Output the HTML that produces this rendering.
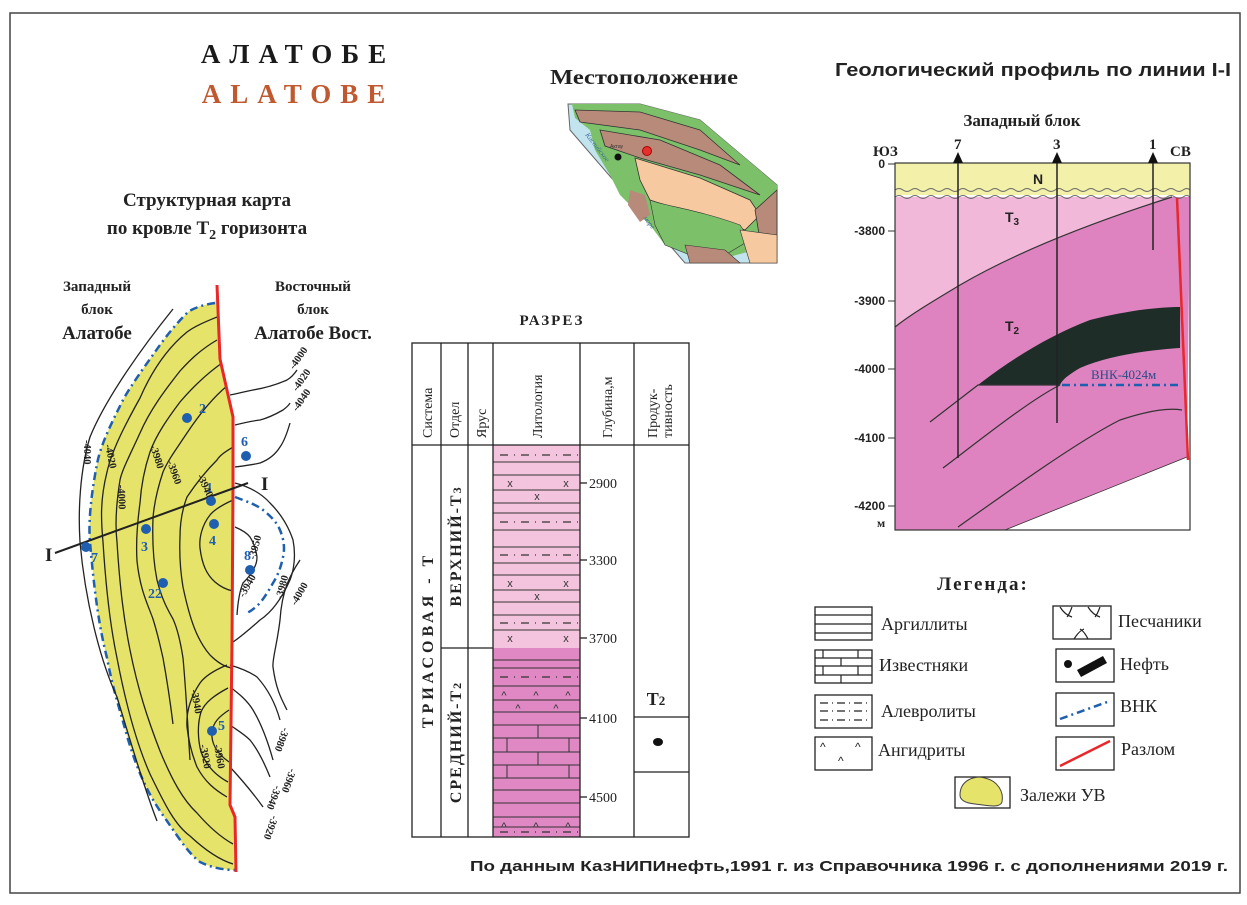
<!DOCTYPE html>
<html><head><meta charset="utf-8"><style>
html,body{margin:0;padding:0;background:#fff;}
svg{display:block;}
.s{font-family:"Liberation Serif","DejaVu Serif",serif;}
.a{font-family:"Liberation Sans","DejaVu Sans",sans-serif;}
</style></head><body>
<svg width="1247" height="905" viewBox="0 0 1247 905" xmlns="http://www.w3.org/2000/svg">
<rect x="10" y="13" width="1230" height="880" fill="#fff" stroke="#444" stroke-width="1.5"/>

<!-- Titles -->
<text x="298" y="63" class="s" font-size="27" font-weight="bold" text-anchor="middle" letter-spacing="9" fill="#1a1a1a">АЛАТОБЕ</text>
<text x="298" y="103" class="s" font-size="27" font-weight="bold" text-anchor="middle" letter-spacing="9" fill="#c0592f">ALATOBE</text>
<text x="207" y="206" class="s" font-size="19" font-weight="bold" text-anchor="middle" fill="#222">Структурная карта</text>
<text x="207" y="234" class="s" font-size="19" font-weight="bold" text-anchor="middle" fill="#222">по кровле Т<tspan font-size="14" dy="5">2</tspan><tspan dy="-5"> горизонта</tspan></text>
<text x="97" y="291" class="s" font-size="15" font-weight="bold" text-anchor="middle" fill="#222">Западный</text>
<text x="97" y="314" class="s" font-size="15" font-weight="bold" text-anchor="middle" fill="#222">блок</text>
<text x="97" y="339" class="s" font-size="19" font-weight="bold" text-anchor="middle" fill="#222">Алатобе</text>
<text x="313" y="291" class="s" font-size="15" font-weight="bold" text-anchor="middle" fill="#222">Восточный</text>
<text x="313" y="314" class="s" font-size="15" font-weight="bold" text-anchor="middle" fill="#222">блок</text>
<text x="313" y="339" class="s" font-size="19" font-weight="bold" text-anchor="middle" fill="#222">Алатобе Вост.</text>

<!-- Structural map -->
<path d="M217,287 L215,303 C200,305 190,310 187,313 C170,330 160,345 150,359 C135,380 125,395 120,406 C108,430 100,448 97,464 C92,490 88,520 90,542 C95,600 100,630 107,658 C113,690 120,710 127,736 C140,780 152,800 167,821 C180,840 190,855 200,862 C212,868 225,870 235,870 L235,817 L230,805 L232,642 L233,487 L233,417 L220,359 Z" fill="#e6e36a"/>
<path d="M215,303 C200,305 190,310 187,313 C170,330 160,345 150,359 C135,380 125,395 120,406 C108,430 100,448 97,464 C92,490 88,520 90,542 C95,600 100,630 107,658 C113,690 120,710 127,736 C140,780 152,800 167,821 C180,840 190,855 200,862 C212,868 225,870 235,870" fill="none" stroke="#1e5fb0" stroke-width="2.5" stroke-dasharray="8,4,2,4"/>
<g fill="none" stroke="#222" stroke-width="1.3">
<path d="M173,309 C140,350 105,400 90,437 C80,470 78,510 80,542 C85,600 100,660 117,697 C130,740 145,790 157,821"/>
<path d="M217,317 C205,322 195,326 187,332 C165,350 150,375 140,398 C125,425 112,450 107,472 C100,500 101,520 103,542 C106,590 110,625 117,658 C125,700 135,740 150,774 C165,805 175,825 190,836 C205,850 220,860 233,864"/>
<path d="M217,340 C200,350 190,360 180,371 C165,390 150,410 140,433 C130,455 122,470 120,480 C116,505 115,525 117,542 C120,590 124,620 130,650 C138,690 148,720 160,751 C172,780 183,800 197,813 C210,828 222,838 233,844"/>
<path d="M222,363 C205,375 192,388 180,402 C168,418 156,435 150,452 C144,470 141,488 140,503 C137,525 136,545 137,561 C140,590 148,605 153,619 C158,635 160,645 163,658 C167,680 170,700 173,724"/>
<path d="M227,386 C210,400 197,418 187,433 C177,448 168,460 163,472 C157,490 154,505 153,518 C152,545 154,565 157,580 C162,600 168,610 173,619 C178,630 181,645 183,658 C186,690 188,730 190,760"/>
<path d="M233,447 C225,452 220,455 217,460 C205,472 195,485 187,497 C182,510 180,525 180,537 C179,560 181,575 183,587 C190,620 197,640 210,655 C218,663 225,667 232,668"/>
<path d="M233,500 C222,505 214,510 210,515 C202,525 199,538 200,548 C202,565 207,575 215,582 C222,588 228,590 233,591"/>
<path d="M227,665 C215,670 205,676 200,683 C190,698 186,712 187,727 C189,745 193,757 197,767 C205,782 215,790 227,797"/>
<path d="M228,688 C215,695 205,702 201,712 C197,725 198,740 201,752 C206,765 215,775 228,782"/>
<path d="M229,710 C220,716 213,722 212,732 C211,742 215,752 229,762"/>
<path d="M230,395 C240,393 247,391 253,390 C265,388 278,384 287,380 C292,377 295,373 297,370"/>
<path d="M235,425 C243,423 252,421 260,420 C268,418 276,414 283,410 C287,407 289,405 290,403"/>
<path d="M235,467 C243,466 252,465 260,463 C268,460 275,455 280,447 C285,440 288,430 290,423"/>
<path d="M235,483 C250,487 262,494 270,503 C280,513 288,525 293,540 C296,555 294,570 290,580 C282,598 272,612 260,620 C252,627 242,636 233,642"/>
<path d="M235,527 C242,530 247,533 250,537 C254,543 256,550 257,557 C257,563 255,567 253,570 C250,576 246,580 243,583 C240,590 238,600 237,615"/>
<path d="M300,560 C290,575 282,590 280,620 C277,645 272,660 273,667 C276,690 282,700 287,710"/>
<path d="M230,665 C240,668 250,672 257,677 C267,688 275,702 280,720"/>
<path d="M230,687 C238,693 247,700 253,710 C262,725 268,742 273,760"/>
<path d="M230,725 C237,730 244,734 250,740 C258,750 264,762 270,777"/>
<path d="M230,767 C242,780 253,793 263,807"/>
</g>
<path d="M235,497 C248,502 257,505 263,510 C272,517 277,523 280,530 C284,540 285,548 283,557 C281,567 278,575 273,583 C268,592 264,598 260,603 C255,608 251,611 247,613" fill="none" stroke="#1e5fb0" stroke-width="2.5" stroke-dasharray="8,4,2,4"/>
<polyline points="217,285 220,359 233,417 233,487 232,642 230,805 235,817 236,872" fill="none" stroke="#e8282a" stroke-width="3"/>
<line x1="55" y1="553" x2="248" y2="483" stroke="#222" stroke-width="2"/>
<text x="45" y="561" class="s" font-size="19" font-weight="bold" fill="#222">I</text>
<text x="261" y="490" class="s" font-size="19" font-weight="bold" fill="#222">I</text>
<g fill="#1f5fb0">
<circle cx="187" cy="418" r="5"/><circle cx="246" cy="456" r="5"/><circle cx="211" cy="501" r="5"/><circle cx="214" cy="524" r="5"/><circle cx="146" cy="529" r="5"/><circle cx="86" cy="547" r="5"/><circle cx="250" cy="570" r="5"/><circle cx="163" cy="583" r="5"/><circle cx="212" cy="731" r="5"/>
</g>
<g class="s" font-size="14" font-weight="bold" fill="#1f5fb0">
<text x="199" y="413">2</text><text x="241" y="446">6</text><text x="206" y="492">1</text><text x="209" y="545">4</text><text x="141" y="551">3</text><text x="91" y="562">7</text><text x="244" y="560">8</text><text x="148" y="598">22</text><text x="218" y="730">5</text>
</g>
<g class="s" font-size="10.5" font-weight="bold" fill="#222">
<text transform="translate(84,440) rotate(90)">-4040</text>
<text transform="translate(105,445) rotate(78)">-4020</text>
<text transform="translate(118,485) rotate(88)">-4000</text>
<text transform="translate(150,446) rotate(72)">-3980</text>
<text transform="translate(167,462) rotate(70)">-3960</text>
<text transform="translate(197,476) rotate(65)">-3940</text>
<text transform="translate(294,370) rotate(-55)">-4000</text>
<text transform="translate(297,392) rotate(-55)">-4020</text>
<text transform="translate(297,412) rotate(-55)">-4040</text>
<text transform="translate(255,560) rotate(-75)">-3950</text>
<text transform="translate(244,598) rotate(-60)">-3940</text>
<text transform="translate(282,600) rotate(-75)">-3980</text>
<text transform="translate(296,606) rotate(-60)">-4000</text>
<text transform="translate(191,690) rotate(80)">-3940</text>
<text transform="translate(200,745) rotate(80)">-3920</text>
<text transform="translate(214,745) rotate(80)">-3960</text>
<text transform="translate(283,727) rotate(110)">-3980</text>
<text transform="translate(290,768) rotate(110)">-3960</text>
<text transform="translate(275,785) rotate(110)">-3940</text>
<text transform="translate(272,815) rotate(110)">-3920</text>
</g>

<!-- Location map -->
<text x="644" y="84" class="s" font-size="21" font-weight="bold" text-anchor="middle" fill="#222" textLength="188" lengthAdjust="spacingAndGlyphs">Местоположение</text>
<polygon points="568,104 640,104 700,120 777,185 777,263 685,263 570,130" fill="#c2e4ee" stroke="#666" stroke-width="1"/>
<path d="M572,104 L640,104 L700,120 L777,185 L777,245 L755,250 L725,258 L690,255 L665,245 L650,225 L635,210 L620,195 L610,175 L595,150 L590,130 L575,118 Z" fill="#7cc169"/>
<path d="M575,110 L640,112 L700,130 L740,165 L700,150 L640,130 L580,122 Z" fill="#b88a7a" stroke="#333" stroke-width="0.8"/>
<path d="M600,130 L660,140 L720,165 L760,195 L700,175 L640,158 L605,146 Z" fill="#b88a7a" stroke="#333" stroke-width="0.8"/>
<path d="M635,158 L700,178 L750,200 L760,215 L745,230 L720,220 L680,210 L650,200 L640,180 Z" fill="#f6c9a0" stroke="#333" stroke-width="0.8"/>
<path d="M650,200 C660,205 700,210 740,225 L750,240 L725,255 L690,255 L665,245 L655,225 Z" fill="#7cc169" stroke="#333" stroke-width="0.6"/>
<path d="M755,210 L777,190 L777,240 L760,240 Z" fill="#b88a7a" stroke="#333" stroke-width="0.8"/>
<path d="M740,230 L777,235 L777,263 L750,263 Z" fill="#f6c9a0" stroke="#333" stroke-width="0.6"/>
<path d="M685,245 L725,250 L740,263 L690,263 Z" fill="#b88a7a" stroke="#333" stroke-width="0.6"/>
<path d="M630,190 L645,195 L650,215 L640,222 L628,205 Z" fill="#b88a7a"/>
<circle cx="618" cy="157" r="3.5" fill="#111"/>
<circle cx="647" cy="151" r="4.5" fill="#e63030" stroke="#a00" stroke-width="1"/>
<text x="610" y="148" class="a" font-size="5" fill="#333">Актау</text>
<text transform="translate(585,135) rotate(52)" class="s" font-size="7" font-style="italic" fill="#3a6a9a">Каспийское</text>
<text transform="translate(643,218) rotate(52)" class="s" font-size="7" font-style="italic" fill="#3a6a9a">море</text>

<!-- Section table -->
<text x="552" y="325" class="s" font-size="15" font-weight="bold" text-anchor="middle" letter-spacing="2" fill="#222">РАЗРЕЗ</text>
<rect x="493" y="445" width="87" height="203" fill="#f4c4df"/>
<rect x="493" y="648" width="87" height="189" fill="#df88c4"/>
<g stroke="#333" stroke-width="1">
<line x1="493" y1="462" x2="580" y2="462"/><line x1="493" y1="475" x2="580" y2="475"/><line x1="493" y1="490" x2="580" y2="490"/><line x1="493" y1="503" x2="580" y2="503"/><line x1="493" y1="513" x2="580" y2="513"/><line x1="493" y1="530" x2="580" y2="530"/><line x1="493" y1="547" x2="580" y2="547"/><line x1="493" y1="563" x2="580" y2="563"/><line x1="493" y1="575" x2="580" y2="575"/><line x1="493" y1="590" x2="580" y2="590"/><line x1="493" y1="602" x2="580" y2="602"/><line x1="493" y1="615" x2="580" y2="615"/><line x1="493" y1="630" x2="580" y2="630"/>
<line x1="493" y1="660" x2="580" y2="660"/><line x1="493" y1="668" x2="580" y2="668"/><line x1="493" y1="686" x2="580" y2="686"/><line x1="493" y1="700" x2="580" y2="700"/><line x1="493" y1="712" x2="580" y2="712"/><line x1="493" y1="725" x2="580" y2="725"/><line x1="493" y1="738" x2="580" y2="738"/><line x1="493" y1="752" x2="580" y2="752"/><line x1="493" y1="765" x2="580" y2="765"/><line x1="493" y1="778" x2="580" y2="778"/><line x1="493" y1="790" x2="580" y2="790"/><line x1="493" y1="803" x2="580" y2="803"/><line x1="493" y1="817" x2="580" y2="817"/><line x1="493" y1="827" x2="580" y2="827"/>
<line x1="538" y1="725" x2="538" y2="738"/><line x1="507" y1="738" x2="507" y2="752"/><line x1="569" y1="738" x2="569" y2="752"/><line x1="538" y1="752" x2="538" y2="765"/><line x1="507" y1="765" x2="507" y2="778"/><line x1="569" y1="765" x2="569" y2="778"/>
</g>
<g stroke="#333" stroke-width="1.2" stroke-dasharray="8,6,1,6" fill="none">
<line x1="500" y1="455" x2="578" y2="455"/><line x1="500" y1="522" x2="578" y2="522"/><line x1="500" y1="555" x2="578" y2="555"/><line x1="500" y1="623" x2="578" y2="623"/><line x1="500" y1="677" x2="578" y2="677"/><line x1="500" y1="832" x2="578" y2="832"/>
</g>
<g class="a" font-size="11" fill="#333" text-anchor="middle">
<text x="510" y="487">x</text><text x="566" y="487">x</text><text x="537" y="500">x</text>
<text x="510" y="587">x</text><text x="566" y="587">x</text><text x="537" y="600">x</text>
<text x="510" y="642">x</text><text x="566" y="642">x</text>
</g>
<g class="a" font-size="11" fill="#333" text-anchor="middle">
<text x="504" y="699">^</text><text x="536" y="699">^</text><text x="568" y="699">^</text>
<text x="518" y="712">^</text><text x="556" y="712">^</text>
<text x="504" y="830">^</text><text x="536" y="830">^</text><text x="568" y="830">^</text>
</g>
<g stroke="#222" stroke-width="1.3" fill="none">
<rect x="412" y="343" width="277" height="494"/>
<line x1="412" y1="445" x2="689" y2="445"/>
<line x1="441" y1="343" x2="441" y2="837"/><line x1="468" y1="343" x2="468" y2="837"/><line x1="493" y1="343" x2="493" y2="837"/><line x1="580" y1="343" x2="580" y2="837"/><line x1="634" y1="343" x2="634" y2="837"/>
<line x1="441" y1="648" x2="493" y2="648"/>
<line x1="634" y1="717" x2="689" y2="717"/><line x1="634" y1="772" x2="689" y2="772"/>
<line x1="580" y1="483" x2="587" y2="483"/><line x1="580" y1="560" x2="587" y2="560"/><line x1="580" y1="638" x2="587" y2="638"/><line x1="580" y1="718" x2="587" y2="718"/><line x1="580" y1="797" x2="587" y2="797"/>
</g>
<g class="s" font-size="14" fill="#222">
<text x="589" y="488">2900</text><text x="589" y="565">3300</text><text x="589" y="643">3700</text><text x="589" y="723">4100</text><text x="589" y="802">4500</text>
</g>
<g class="s" font-size="14" fill="#222">
<text transform="translate(432,438) rotate(-90)">Система</text>
<text transform="translate(459,438) rotate(-90)">Отдел</text>
<text transform="translate(486,438) rotate(-90)">Ярус</text>
<text transform="translate(542,438) rotate(-90)">Литология</text>
<text transform="translate(612,438) rotate(-90)">Глубина,м</text>
<text transform="translate(657,438) rotate(-90)">Продук-</text>
<text transform="translate(672,438) rotate(-90)">тивность</text>
</g>
<g class="s" font-size="16" font-weight="bold" fill="#222" text-anchor="middle">
<text transform="translate(433,640) rotate(-90)" letter-spacing="4">ТРИАСОВАЯ - Т</text>
<text transform="translate(461,546) rotate(-90)" letter-spacing="2">ВЕРХНИЙ-Т<tspan font-size="12">3</tspan></text>
<text transform="translate(461,742) rotate(-90)" letter-spacing="2">СРЕДНИЙ-Т<tspan font-size="12">2</tspan></text>
</g>
<text x="656" y="705" class="s" font-size="18" font-weight="bold" text-anchor="middle" fill="#222">Т<tspan font-size="13">2</tspan></text>
<ellipse cx="658" cy="742" rx="5" ry="4" fill="#111"/>

<!-- Geological profile -->
<text x="835" y="76" class="a" font-size="18" font-weight="bold" fill="#222" textLength="396" lengthAdjust="spacingAndGlyphs">Геологический профиль по линии I-I</text>
<text x="1022" y="126" class="s" font-size="17" font-weight="bold" text-anchor="middle" fill="#222">Западный блок</text>
<rect x="895" y="163" width="295" height="32" fill="#f3f0aa"/>
<path d="M895,197 L1190,197 L1187,457 L1005,530 L895,530 Z" fill="#de82c0"/>
<path d="M895,197 L1172,197 C1100,220 1020,250 960,285 C930,303 910,315 895,327 Z" fill="#f1b8da"/>
<path d="M895,327 C910,315 930,303 960,285 C1020,250 1100,220 1172,197" fill="none" stroke="#333" stroke-width="1.2"/>
<path d="M978,385 C1010,360 1050,335 1090,320 C1130,310 1160,307 1180,307 L1180,348 C1150,350 1110,355 1080,368 C1068,375 1062,380 1060,385 Z" fill="#1f2d29"/>
<path d="M930,422 L978,385 L1060,385" fill="none" stroke="#333" stroke-width="1.2"/>
<path d="M943,468 C980,440 1030,400 1060,385" fill="none" stroke="#333" stroke-width="1.2"/>
<path d="M958,527 C1010,490 1080,440 1120,420 C1150,410 1170,408 1182,410" fill="none" stroke="#333" stroke-width="1.2"/>
<path d="M1005,530 L1187,457" fill="none" stroke="#333" stroke-width="0.8"/>
<line x1="1062" y1="385" x2="1180" y2="385" stroke="#1e5fb0" stroke-width="2.5" stroke-dasharray="8,4,2,4"/>
<text x="1091" y="379" class="s" font-size="13" fill="#2a4c8a">ВНК-4024м</text>
<g fill="none" stroke="#666" stroke-width="1">
<path d="M895,190 q4,-3 8,0 t8,0 t8,0 t8,0 t8,0 t8,0 t8,0 t8,0 t8,0 t8,0 t8,0 t8,0 t8,0 t8,0 t8,0 t8,0 t8,0 t8,0 t8,0 t8,0 t8,0 t8,0 t8,0 t8,0 t8,0 t8,0 t8,0 t8,0 t8,0 t8,0 t8,0 t8,0 t8,0 t8,0 t8,0 t8,0 t7,0"/>
<path d="M895,197 q4,-3 8,0 t8,0 t8,0 t8,0 t8,0 t8,0 t8,0 t8,0 t8,0 t8,0 t8,0 t8,0 t8,0 t8,0 t8,0 t8,0 t8,0 t8,0 t8,0 t8,0 t8,0 t8,0 t8,0 t8,0 t8,0 t8,0 t8,0 t8,0 t8,0 t8,0 t8,0 t8,0 t8,0 t8,0 t8,0 t8,0 t7,0"/>
</g>
<line x1="1177" y1="198" x2="1188" y2="460" stroke="#e8282a" stroke-width="2.5"/>
<rect x="895" y="163" width="295" height="367" fill="none" stroke="#333" stroke-width="1.2"/>
<g stroke="#222" stroke-width="1.5">
<line x1="958" y1="160" x2="958" y2="458"/><line x1="1057" y1="160" x2="1057" y2="423"/><line x1="1153" y1="160" x2="1153" y2="250"/>
</g>
<g fill="#111"><polygon points="958,152 953,163 963,163"/><polygon points="1057,152 1052,163 1062,163"/><polygon points="1153,152 1148,163 1158,163"/></g>
<g class="s" font-size="15" font-weight="bold" fill="#222">
<text x="954" y="149">7</text><text x="1053" y="149">3</text><text x="1149" y="149">1</text>
<text x="873" y="156">ЮЗ</text><text x="1170" y="156">СВ</text>
</g>
<text x="1038" y="184" class="a" font-size="14" font-weight="bold" text-anchor="middle" fill="#222">N</text>
<text x="1012" y="222" class="a" font-size="14" font-weight="bold" text-anchor="middle" fill="#222">Т<tspan font-size="10" dy="3">3</tspan></text>
<text x="1012" y="331" class="a" font-size="14" font-weight="bold" text-anchor="middle" fill="#222">Т<tspan font-size="10" dy="3">2</tspan></text>
<g class="a" font-size="12" font-weight="bold" fill="#222" text-anchor="end">
<text x="885" y="168">0</text><text x="885" y="235">-3800</text><text x="885" y="305">-3900</text><text x="885" y="373">-4000</text><text x="885" y="442">-4100</text><text x="885" y="510">-4200</text>
</g>
<text x="877" y="527" class="s" font-size="12" font-weight="bold" fill="#222">м</text>
<g stroke="#333" stroke-width="1"><line x1="888" y1="164" x2="895" y2="164"/><line x1="888" y1="231" x2="895" y2="231"/><line x1="888" y1="301" x2="895" y2="301"/><line x1="888" y1="369" x2="895" y2="369"/><line x1="888" y1="438" x2="895" y2="438"/><line x1="888" y1="506" x2="895" y2="506"/></g>

<!-- Legend -->
<text x="983" y="590" class="s" font-size="19" font-weight="bold" text-anchor="middle" letter-spacing="2" fill="#222">Легенда:</text>
<g fill="#fff" stroke="#222" stroke-width="1.3">
<rect x="815" y="607" width="57" height="33"/><rect x="815" y="650" width="57" height="33"/><rect x="815" y="695" width="57" height="33"/><rect x="815" y="737" width="57" height="33"/>
<rect x="1053" y="606" width="58" height="33"/><rect x="1056" y="649" width="58" height="33"/><rect x="1056" y="693" width="58" height="33"/><rect x="1056" y="737" width="58" height="33"/>
<rect x="955" y="777" width="55" height="31"/>
</g>
<g stroke="#222" stroke-width="1.2">
<line x1="815" y1="615" x2="872" y2="615"/><line x1="815" y1="624" x2="872" y2="624"/><line x1="815" y1="633" x2="872" y2="633"/>
<line x1="815" y1="658" x2="872" y2="658"/><line x1="815" y1="666" x2="872" y2="666"/><line x1="815" y1="675" x2="872" y2="675"/>
<line x1="823" y1="650" x2="823" y2="658"/><line x1="858" y1="650" x2="858" y2="658"/><line x1="841" y1="658" x2="841" y2="666"/><line x1="823" y1="666" x2="823" y2="675"/><line x1="858" y1="666" x2="858" y2="675"/><line x1="841" y1="675" x2="841" y2="683"/>
</g>
<g stroke="#222" stroke-width="1.3" stroke-dasharray="8,4,1,4"><line x1="820" y1="703" x2="870" y2="703"/><line x1="820" y1="711" x2="870" y2="711"/><line x1="820" y1="720" x2="870" y2="720"/></g>
<g class="a" font-size="12" fill="#222"><text x="820" y="751">^</text><text x="855" y="751">^</text><text x="838" y="765">^</text></g>
<g fill="none" stroke="#222" stroke-width="1.2">
<path d="M1060,607 q5,8 12,10 M1072,607 q-3,8 -5,10 M1088,607 q5,8 12,10 M1100,607 q-3,8 -5,10 M1074,639 q5,-8 10,-10 M1088,639 q-4,-8 -8,-10"/>
</g>
<circle cx="1068" cy="664" r="4" fill="#111"/>
<polygon points="1077,670 1103,656 1107,663 1081,677" fill="#111"/>
<line x1="1060" y1="719" x2="1110" y2="701" stroke="#1e5fb0" stroke-width="2.5" stroke-dasharray="8,4,2,4"/>
<line x1="1060" y1="766" x2="1110" y2="741" stroke="#e8282a" stroke-width="2.5"/>
<path d="M960,795 C960,780 975,775 985,778 C998,781 1004,792 1002,802 C1000,808 990,806 975,804 C965,803 960,800 960,795 Z" fill="#e6e36a" stroke="#444" stroke-width="1"/>
<g class="s" font-size="18" fill="#222">
<text x="881" y="630">Аргиллиты</text><text x="879" y="671">Известняки</text><text x="881" y="717">Алевролиты</text><text x="878" y="756">Ангидриты</text>
<text x="1118" y="627">Песчаники</text><text x="1120" y="670">Нефть</text><text x="1120" y="712">ВНК</text><text x="1121" y="755">Разлом</text>
<text x="1020" y="801">Залежи УВ</text>
</g>

<text x="470" y="871" class="a" font-size="15" font-weight="bold" fill="#222" textLength="758" lengthAdjust="spacingAndGlyphs">По данным КазНИПИнефть,1991 г. из Справочника 1996 г. с дополнениями 2019 г.</text>
</svg>
</body></html>
